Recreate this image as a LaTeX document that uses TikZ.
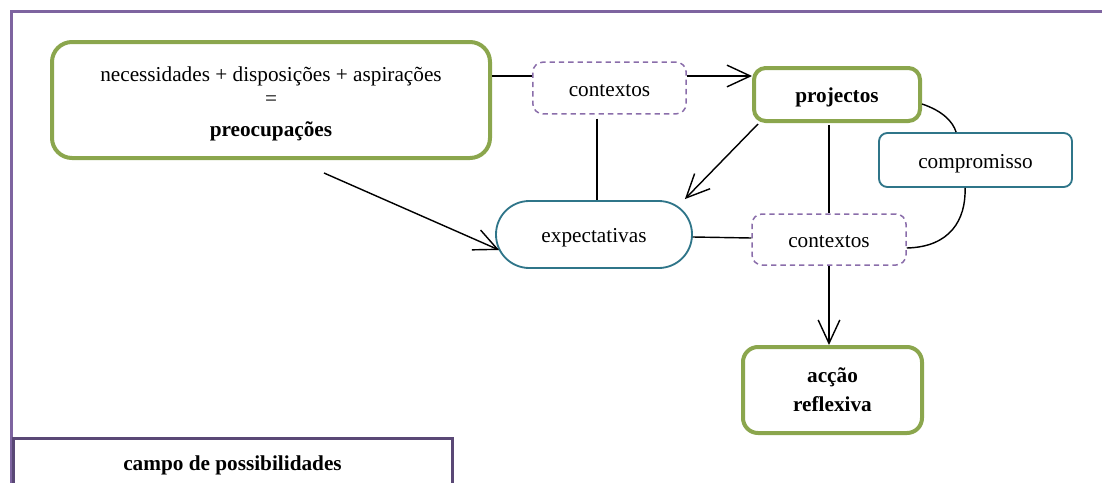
\documentclass[tikz,border=0pt]{standalone}
\usepackage{fontspec}
\setmainfont{Liberation Serif}
\usetikzlibrary{arrows.meta,calc}
\definecolor{olivegreen}{HTML}{8BA64D}
\definecolor{tealline}{HTML}{2F7589}
\definecolor{framepurple}{HTML}{7E64A0}
\definecolor{darkpurple}{HTML}{5A4876}
\definecolor{dashpurple}{HTML}{8A6DAA}
\tikzset{
  x=0.6pt, y=-0.6pt,
  every node/.style={font=\fontsize{12.75}{15.5}\selectfont, align=center, inner sep=0pt},
  oneline/.style={text height=10pt, text depth=0pt},
  greenbox/.style={draw=olivegreen, line width=2.4pt, rounded corners=7pt},
  tealbox/.style={draw=tealline, line width=1.1pt, rounded corners=5pt, oneline},
  ctxbox/.style={draw=dashpurple, line width=0.9pt, dash pattern=on 3.2pt off 2.4pt, rounded corners=6pt,
    minimum width=92pt, minimum height=31pt, oneline},
  link/.style={draw=black, line width=0.85pt},
  arr/.style={link, -{Straight Barb[length=14pt, width=13pt, line width=0.85pt]}},
}
\begin{document}
\begin{tikzpicture}
\useasboundingbox (0,0) rectangle (1102,483);

% outer frame
\draw[framepurple, line width=1.8pt] (11,500) -- (11,11) -- (1120,11);

% bottom caption box
\node[draw=darkpurple, line width=1.8pt, minimum width=263.4pt, minimum height=32pt, anchor=north,
      font=\fontsize{12.75}{15.5}\selectfont\bfseries] (campo) at (232.5,437) {campo de possibilidades};

% nodes
\node[greenbox, rounded corners=12pt, minimum width=262.8pt, minimum height=69.6pt] (preoc) at (271,100)
  {\rule{0pt}{13pt}necessidades + disposições + aspirações\\[-1pt]=\\[3pt]\textbf{preocupações}};
\node[ctxbox] (ctx1) at (609.5,88) {contextos};
\node[greenbox, oneline, minimum width=99.6pt, minimum height=31.8pt] (proj) at (837,94.5) {\textbf{projectos}};
\node[tealbox, minimum width=115.8pt, minimum height=32.4pt] (comp) at (975.5,160) {compromisso};
\node[tealbox, rounded corners=20pt, minimum width=117.6pt, minimum height=40.2pt] (expect) at (594,234.5) {expectativas};
\node[ctxbox, minimum width=92.4pt, minimum height=30.6pt] (ctx2) at (829,239.5) {contextos};
\node[greenbox, rounded corners=9pt, minimum width=107.4pt, minimum height=51.6pt] (accao) at (832.5,390)
  {\textbf{acção}\\[2pt]\textbf{reflexiva}};

% connectors
\coordinate (l1) at ($(ctx1.west)+(0,-12)$);
\draw[link] (l1 -| preoc.east) -- (l1);
\coordinate (l2) at ($(ctx1.east)+(0,-12)$);
\draw[arr] (l2) -- (l2 -| proj.west);
\coordinate (l3) at ($(ctx1.south)+(-12.5,4)$);
\draw[link] (l3) -- (l3 |- expect.north);
\coordinate (p1) at (324,173);
\draw[arr] (p1) -- ($(expect.west)+(4,15.5)$);
\draw[arr] ($(proj.south west)+(6,1)$) -- ($(expect.north east)+(-8,-1)$);
\coordinate (l4) at ($(proj.south)+(-8,2)$);
\draw[link] (l4) -- (l4 |- ctx2.north);
\draw[link] ($(expect.east)+(0,2.5)$) -- ($(ctx2.west)+(0,-1.5)$);
\draw[arr] (ctx2.south) -- (ctx2.south |- accao.north);
\draw[link] ($(proj.east)+(0,9.5)$) .. controls (943,111) and (953,122) .. ($(comp.north west)+(78,0)$);
\draw[link] ($(comp.south west)+(87,0)$) .. controls (966,220) and (950,247) .. ($(ctx2.east)+(0,8.5)$);
\end{tikzpicture}
\end{document}
